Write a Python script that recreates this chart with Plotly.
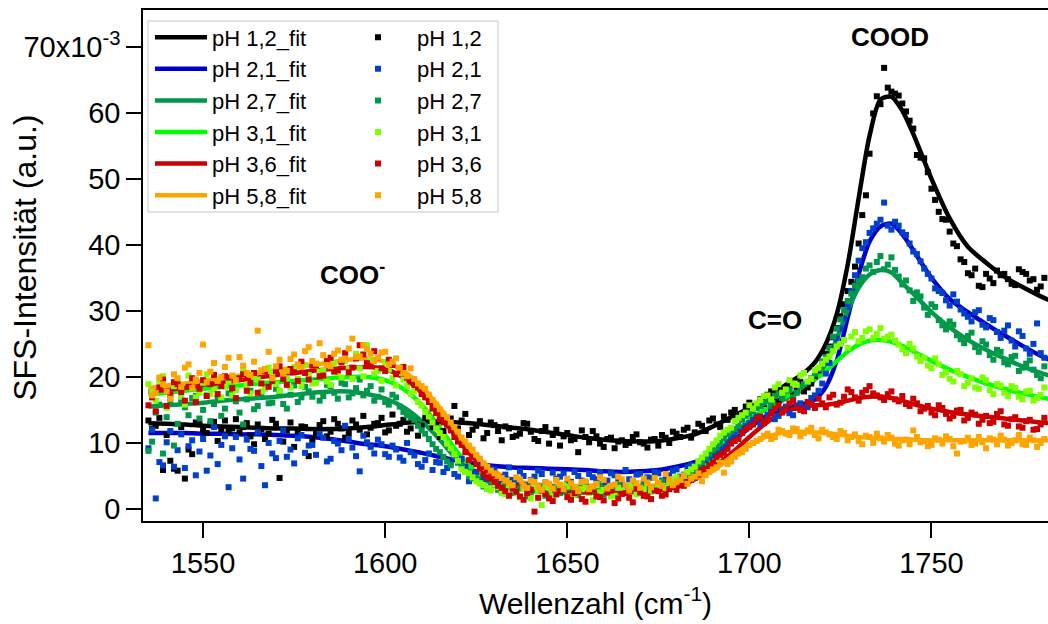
import plotly.graph_objects as go

# ---------------- data (values in units of 10^-3) ----------------
# measured points, odd wavenumbers
pt_x = [1535, 1537, 1539, 1541, 1543, 1545, 1547, 1549, 1551, 1553,
        1555, 1557, 1559, 1561, 1563, 1565, 1567, 1569, 1571, 1573,
        1575, 1577, 1579, 1581, 1583, 1585, 1587, 1589, 1591, 1593,
        1595, 1597, 1599, 1601, 1603, 1605, 1607, 1609, 1611, 1613,
        1615, 1617, 1619, 1621, 1623, 1625, 1627, 1629, 1631, 1633,
        1635, 1637, 1639, 1641, 1643, 1645, 1647, 1649, 1651, 1653,
        1655, 1657, 1659, 1661, 1663, 1665, 1667, 1669, 1671, 1673,
        1675, 1677, 1679, 1681, 1683, 1685, 1687, 1689, 1691, 1693,
        1695, 1697, 1699, 1701, 1703, 1705, 1707, 1709, 1711, 1713,
        1715, 1717, 1719, 1721, 1723, 1725, 1727, 1729, 1731, 1733,
        1735, 1737, 1739, 1741, 1743, 1745, 1747, 1749, 1751, 1753,
        1755, 1757, 1759, 1761, 1763, 1765, 1767, 1769, 1771, 1773,
        1775, 1777, 1779, 1781]

# measured points, even wavenumbers
pt_x2 = [1536, 1538, 1540, 1542, 1544, 1546, 1548, 1550, 1552, 1554,
         1556, 1558, 1560, 1562, 1564, 1566, 1568, 1570, 1572, 1574,
         1576, 1578, 1580, 1582, 1584, 1586, 1588, 1590, 1592, 1594,
         1596, 1598, 1600, 1602, 1604, 1606, 1608, 1610, 1612, 1614,
         1616, 1618, 1620, 1622, 1624, 1626, 1628, 1630, 1632, 1634,
         1636, 1638, 1640, 1642, 1644, 1646, 1648, 1650, 1652, 1654,
         1656, 1658, 1660, 1662, 1664, 1666, 1668, 1670, 1672, 1674,
         1676, 1678, 1680, 1682, 1684, 1686, 1688, 1690, 1692, 1694,
         1696, 1698, 1700, 1702, 1704, 1706, 1708, 1710, 1712, 1714,
         1716, 1718, 1720, 1722, 1724, 1726, 1728, 1730, 1732, 1734,
         1736, 1738, 1740, 1742, 1744, 1746, 1748, 1750, 1752, 1754,
         1756, 1758, 1760, 1762, 1764, 1766, 1768, 1770, 1772, 1774,
         1776, 1778, 1780]

pts_ph12 = [13.4, 12.6, 5.9, 7.3, 5.8, 4.6, 8.3, 12.9, 11.5, 13.2,
            12.1, 11.8, 13.6, 12.4, 11.0, 12.8, 10.6, 13.5, 4.7, 11.9,
            9.4, 12.5, 8.0, 11.4, 13.3, 11.7, 12.9, 10.8, 13.4, 12.0,
            11.3, 12.9, 13.8, 11.9, 12.6, 13.5, 12.2, 11.1, 13.8, 12.4,
            10.9, 12.8, 15.6, 13.4, 11.2, 12.6, 10.7, 13.1, 11.8, 12.5,
            10.9, 11.4, 12.9, 10.6, 11.8, 9.9, 12.0, 11.0, 10.4, 8.6,
            10.9, 11.8, 9.9, 10.6, 9.2, 10.4, 10.0, 11.3, 9.9, 10.5,
            9.6, 10.8, 11.7, 10.9, 12.3, 11.6, 12.6, 13.4, 12.8, 14.0,
            14.6, 13.9, 15.5, 15.1, 16.6, 17.3, 16.9, 17.2, 18.5, 18.1,
            17.8, 19.0, 21.0, 23.5, 26.0, 29.2, 33.0, 36.7, 44.5, 53.8,
            62.5, 66.8, 63.2, 62.6, 60.2, 57.6, 53.2, 51.0, 46.8, 43.9,
            42.0, 39.8, 37.4, 35.4, 33.8, 35.6, 34.2, 35.4, 34.8, 33.9,
            35.9, 34.6, 33.2, 35.0]
pts2_ph12 = [12.1, 13.8, 11.2, 6.1, 12.4, 9.0, 13.1, 11.9, 12.8, 10.3,
             13.4, 12.2, 11.6, 13.0, 9.8, 12.1, 11.4, 12.9, 10.2, 13.1,
             11.8, 12.4, 10.5, 12.7, 11.0, 13.6, 12.2, 11.5, 12.8, 14.1,
             12.3, 13.0, 11.6, 14.3, 12.9, 11.7, 13.4, 12.6, 14.0, 13.1,
             11.8, 13.7, 12.2, 14.4, 12.0, 13.3, 11.5, 12.7, 10.4, 12.2,
             11.1, 13.0, 11.7, 10.3, 12.4, 11.2, 9.6, 11.5, 10.6, 11.9,
             10.1, 11.0, 9.4, 10.8, 10.2, 9.7, 10.9, 10.1, 9.3, 10.6,
             11.2, 10.0, 11.4, 12.0, 10.8, 12.9, 11.8, 13.7, 12.4, 13.5,
             15.0, 14.2, 16.1, 15.6, 15.9, 17.8, 16.4, 18.0, 17.3, 19.2,
             18.4, 20.1, 22.3, 24.6, 27.4, 31.0, 34.4, 40.2, 47.5, 59.9,
             61.3, 63.8, 62.9, 61.4, 58.8, 53.6, 53.1, 48.5, 45.0, 43.8,
             40.2, 37.8, 35.7, 36.4, 33.6, 34.9, 36.1, 35.6, 34.1, 36.3,
             35.6, 34.8, 33.7]

pts_ph21 = [9.2, 1.6, 6.6, 11.8, 8.9, 6.2, 10.4, 8.7, 5.8, 12.4,
            9.7, 3.3, 10.9, 4.6, 9.1, 11.6, 3.6, 8.4, 10.3, 7.9,
            6.9, 11.2, 9.6, 8.2, 10.8, 7.6, 9.9, 12.6, 9.3, 5.7,
            10.1, 8.4, 9.8, 7.9, 9.0, 7.3, 8.6, 6.8, 7.4, 5.9,
            7.0, 6.2, 5.3, 7.6, 4.2, 5.6, 4.8, 6.1, 3.9, 5.2,
            4.4, 5.7, 3.6, 4.9, 5.3, 3.8, 4.6, 5.4, 4.1, 5.0,
            3.9, 4.8, 5.6, 4.3, 5.1, 3.7, 4.5, 5.2, 4.0, 4.7,
            5.4, 4.4, 5.8, 4.9, 6.3, 5.7, 6.9, 7.8, 8.6, 9.4,
            10.8, 11.9, 12.6, 13.5, 12.9, 14.3, 13.6, 15.1, 14.5, 15.7,
            14.9, 16.8, 17.9, 20.5, 24.0, 27.3, 30.6, 35.4, 39.5, 41.8,
            43.2, 46.4, 42.3, 42.9, 41.5, 39.0, 37.5, 35.6, 33.4, 32.7,
            30.8, 31.4, 29.6, 28.4, 30.1, 27.5, 28.6, 25.9, 27.8, 24.6,
            26.2, 23.5, 28.1, 22.9]
pts2_ph21 = [12.0, 7.1, 10.1, 6.4, 11.3, 9.5, 5.1, 10.6, 8.1, 6.8,
             11.0, 9.2, 7.5, 10.5, 8.8, 6.5, 10.0, 7.7, 11.9, 9.0,
             10.7, 8.5, 9.7, 11.4, 7.2, 10.3, 8.9, 10.6, 8.0, 11.1,
             9.4, 10.5, 8.3, 9.6, 7.8, 10.0, 8.1, 6.4, 8.4, 7.1,
             5.6, 6.9, 4.9, 6.4, 5.5, 6.7, 4.5, 5.9, 4.8, 6.3,
             4.2, 5.0, 4.4, 5.8, 4.0, 5.5, 4.9, 3.8, 5.6, 4.3,
             5.3, 4.5, 3.6, 5.4, 4.6, 5.9, 4.1, 5.3, 4.8, 5.6,
             4.3, 5.1, 6.0, 5.2, 6.6, 6.1, 7.4, 8.1, 9.0, 10.1,
             11.2, 12.2, 13.0, 14.0, 13.3, 14.8, 14.1, 15.5, 14.2, 16.0,
             15.4, 17.2, 19.0, 22.1, 25.8, 28.8, 33.0, 37.6, 40.4, 42.5,
             43.8, 42.9, 43.5, 41.9, 40.2, 38.6, 36.4, 34.9, 33.0, 31.6,
             32.5, 30.2, 29.1, 29.8, 27.9, 28.9, 26.8, 27.0, 25.5, 26.9,
             24.3, 25.0, 23.6]

pts_ph27 = [8.8, 14.6, 8.4, 16.2, 12.9, 15.4, 16.8, 13.7, 17.2, 15.9,
            14.1, 17.5, 16.3, 12.8, 17.9, 15.6, 18.4, 16.1, 17.6, 15.2,
            18.7, 16.9, 17.8, 19.4, 17.1, 18.6, 16.7, 18.9, 17.5, 19.6,
            17.9, 16.4, 18.1, 15.8, 16.9, 14.7, 13.9, 12.6, 11.4, 9.8,
            8.6, 7.2, 8.1, 6.3, 5.1, 4.5, 3.4, 4.0, 2.9, 3.5,
            2.4, 3.1, 1.9, 2.8, 3.4, 2.2, 3.0, 2.6, 3.7, 2.1,
            3.3, 2.7, 3.8, 2.5, 3.2, 2.3, 3.5, 2.9, 3.6, 2.8,
            3.9, 3.3, 4.4, 3.9, 5.2, 6.0, 7.1, 8.4, 9.3, 10.7,
            11.8, 12.6, 14.1, 14.8, 15.6, 16.3, 17.1, 16.8, 18.0, 17.6,
            18.9, 19.8, 21.2, 23.0, 26.1, 28.7, 31.5, 33.8, 35.1, 36.9,
            37.4, 36.3, 38.1, 35.2, 34.6, 31.5, 32.2, 29.4, 30.6, 27.8,
            28.4, 26.3, 25.1, 26.7, 23.8, 24.9, 22.6, 23.8, 21.9, 23.2,
            21.4, 22.5, 20.3, 21.6]
pts2_ph27 = [10.2, 15.8, 13.9, 9.6, 16.4, 14.2, 17.1, 15.0, 13.3, 16.8,
             15.2, 17.9, 14.6, 16.6, 15.1, 17.4, 16.0, 18.2, 15.9, 17.3,
             16.2, 18.5, 17.0, 16.4, 18.8, 17.6, 19.1, 16.9, 18.3, 17.2,
             18.6, 17.0, 16.2, 17.3, 15.5, 14.2, 13.5, 11.9, 10.6, 9.1,
             7.9, 6.6, 7.0, 5.7, 4.6, 3.9, 3.1, 3.6, 2.6, 3.8,
             2.7, 3.3, 2.5, 3.1, 2.0, 3.3, 2.4, 3.2, 2.8, 3.6,
             2.6, 3.4, 2.2, 3.0, 3.7, 2.6, 3.2, 2.5, 3.4, 3.1,
             4.2, 3.7, 4.1, 4.7, 5.7, 6.5, 7.8, 8.9, 10.0, 11.3,
             12.1, 13.5, 14.4, 15.3, 16.1, 15.7, 17.4, 17.9, 16.9, 18.5,
             19.2, 20.5, 22.3, 24.4, 27.3, 30.1, 32.6, 34.5, 36.4, 35.9,
             38.3, 37.0, 36.2, 34.0, 33.1, 32.8, 30.5, 31.0, 28.6, 27.2,
             27.9, 25.7, 26.2, 24.5, 25.4, 23.3, 24.1, 22.2, 23.0, 20.9,
             22.0, 21.1, 19.8]

pts_ph31 = [18.9, 16.4, 20.1, 17.2, 19.0, 15.8, 18.3, 17.6, 20.4, 18.1,
            16.9, 19.3, 18.0, 21.2, 17.5, 19.6, 18.2, 20.7, 17.9, 19.8,
            21.5, 18.6, 20.3, 19.1, 21.0, 18.8, 20.6, 22.4, 19.7, 21.3,
            24.8, 20.5, 19.4, 21.1, 18.7, 19.6, 17.4, 16.2, 14.7, 13.1,
            11.5, 9.9, 8.3, 6.0, 5.4, 4.2, 3.6, 2.8, 3.3, 2.2,
            3.0, 1.8, 2.6, 3.4, 0.6, 2.9, 2.3, 3.6, 1.9, 2.7,
            3.2, 1.3, 2.5, 3.1, 2.0, 2.8, 3.5, 2.2, 3.0, 2.6,
            3.7, 3.2, 4.5, 4.1, 5.6, 6.4, 7.8, 9.1, 10.4, 11.6,
            12.3, 13.8, 14.6, 15.2, 16.5, 17.2, 18.4, 17.6, 19.5, 18.8,
            20.6, 19.7, 21.4, 22.6, 23.9, 25.0, 24.4, 26.8, 25.9, 27.2,
            26.5, 25.8, 26.4, 24.9, 23.6, 24.3, 22.4, 21.7, 22.8, 20.3,
            19.7, 20.9, 18.6, 19.8, 18.2, 19.5, 17.4, 18.7, 17.1, 18.3,
            16.6, 17.9, 16.8, 18.4]
pts2_ph31 = [17.7, 19.4, 15.3, 18.6, 17.0, 20.2, 16.9, 19.1, 17.4, 19.6,
             18.5, 17.2, 20.0, 18.7, 19.9, 17.8, 21.4, 18.9, 20.5, 18.4,
             19.7, 21.8, 19.0, 20.8, 19.3, 22.0, 19.9, 21.2, 23.5, 20.1,
             22.6, 20.9, 22.2, 19.8, 20.6, 18.6, 17.9, 15.7, 14.0, 12.2,
             10.9, 9.2, 7.3, 5.6, 4.8, 3.9, 3.1, 3.7, 2.4, 3.4,
             2.5, 3.1, 1.6, 2.7, 3.3, 2.0, 2.8, 3.4, 2.2, 3.0,
             2.4, 3.6, 2.9, 1.9, 3.2, 2.5, 3.3, 2.7, 3.9, 3.0,
             3.5, 4.0, 4.8, 5.1, 6.0, 7.2, 8.4, 9.8, 11.1, 12.0,
             13.3, 14.2, 15.7, 16.0, 17.1, 16.6, 18.9, 18.1, 19.0, 20.2,
             19.3, 21.0, 22.0, 23.1, 24.6, 25.6, 26.1, 25.4, 26.9, 25.9,
             27.4, 26.1, 25.5, 24.2, 25.0, 23.1, 22.9, 21.3, 21.9, 20.7,
             19.3, 20.4, 19.1, 18.4, 19.9, 18.0, 18.9, 17.6, 18.6, 17.0,
             17.8, 16.4, 17.3]

pts_ph36 = [15.7, 14.8, 19.6, 17.3, 18.9, 16.4, 19.8, 18.2, 17.1, 20.3,
            18.6, 19.9, 16.8, 20.4, 19.1, 17.6, 20.9, 19.4, 21.6, 18.8,
            20.7, 22.3, 19.6, 21.8, 20.2, 22.9, 21.0, 23.6, 21.4, 24.8,
            22.1, 23.9, 21.3, 22.6, 20.4, 21.5, 19.3, 18.4, 16.9, 15.2,
            13.6, 12.8, 10.9, 9.7, 7.4, 6.8, 5.3, 4.6, 3.5, 2.7,
            3.1, 1.9, 2.4, -0.4, 2.8, 1.6, 2.2, 3.0, 1.4, 2.6,
            1.1, 2.9, 1.8, 2.5, 0.9, 2.3, 1.7, 3.1, 2.0, 1.5,
            2.7, 2.2, 3.4, 3.8, 4.1, 4.7, 5.9, 6.6, 7.8, 8.5,
            9.9, 10.6, 12.1, 12.8, 14.0, 13.6, 15.2, 14.6, 16.0, 15.3,
            14.8, 15.9, 16.7, 15.4, 17.3, 16.1, 18.1, 16.9, 17.6, 18.6,
            17.2, 16.5, 17.8, 16.3, 15.9, 16.7, 14.8, 15.6, 14.2, 15.3,
            13.7, 14.9, 13.4, 14.6, 12.9, 14.1, 13.2, 14.8, 12.6, 13.9,
            12.3, 13.5, 12.1, 13.8]
pts2_ph36 = [16.9, 18.4, 15.6, 19.2, 17.7, 18.5, 16.2, 19.5, 18.9, 17.4,
             20.1, 18.3, 19.8, 17.9, 20.6, 19.0, 18.5, 20.9, 19.7, 21.2,
             19.4, 20.6, 21.7, 20.1, 22.4, 20.8, 22.2, 20.7, 22.8, 23.4,
             21.7, 22.9, 20.9, 21.8, 20.9, 19.9, 18.8, 17.4, 16.2, 14.5,
             13.1, 11.9, 10.2, 8.6, 7.9, 6.1, 4.8, 4.1, 3.2, 2.0,
             2.6, 1.4, 2.9, 1.7, 2.3, 1.2, 2.7, 1.8, 2.4, 1.5,
             2.6, 1.9, 1.3, 2.8, 1.6, 2.4, 1.0, 2.5, 1.9, 2.8,
             2.0, 3.0, 2.9, 3.5, 4.4, 5.2, 6.1, 7.0, 8.2, 9.1,
             10.3, 11.5, 12.4, 13.6, 13.0, 14.5, 15.7, 15.1, 16.4, 15.0,
             16.2, 15.3, 16.0, 16.9, 15.8, 17.0, 17.7, 16.4, 18.0, 17.5,
             16.9, 17.4, 16.6, 17.1, 15.6, 16.0, 15.2, 14.6, 15.7, 14.4,
             14.1, 15.0, 13.8, 14.3, 13.5, 13.0, 14.4, 12.8, 13.6, 12.5,
             13.3, 12.0, 12.8]

pts_ph58 = [24.8, 17.6, 18.9, 16.7, 19.8, 21.4, 18.3, 20.6, 19.2, 22.1,
            20.0, 22.9, 19.5, 21.7, 20.3, 27.0, 21.2, 19.8, 22.6, 20.9,
            23.4, 21.5, 24.5, 22.0, 23.3, 21.6, 24.0, 22.8, 25.8, 23.1,
            24.2, 22.4, 23.7, 21.9, 22.8, 20.6, 21.3, 19.0, 18.2, 16.5,
            15.1, 13.9, 12.4, 10.8, 9.6, 8.2, 6.9, 5.8, 5.0, 4.3,
            3.6, 4.5, 3.2, 4.1, 2.9, 3.8, 4.4, 3.0, 3.9, 2.7,
            4.2, 3.4, 4.8, 3.1, 3.7, 4.5, 2.8, 3.9, 4.6, 3.3,
            4.0, 5.3, 3.6, 4.4, 3.8, 4.9, 4.2, 5.6, 6.3, 5.5,
            7.2, 8.4, 9.1, 10.0, 10.6, 11.4, 10.9, 11.8, 11.2, 12.1,
            11.5, 12.3, 10.7, 11.6, 10.9, 11.8, 10.4, 11.3, 9.8, 10.9,
            11.4, 10.2, 10.8, 9.6, 10.5, 11.9, 10.1, 9.5, 10.7, 9.9,
            10.6, 8.4, 10.3, 9.7, 10.9, 9.2, 10.5, 11.1, 9.6, 10.4,
            9.8, 10.8, 9.4, 10.6]
pts2_ph58 = [17.2, 19.9, 17.8, 20.4, 18.5, 21.9, 19.6, 24.9, 20.8, 19.4,
             21.5, 20.2, 23.0, 20.6, 22.3, 21.0, 23.8, 21.6, 20.5, 22.7,
             21.9, 23.9, 22.4, 25.1, 21.8, 23.5, 22.6, 24.3, 23.0, 24.8,
             23.5, 22.9, 23.8, 22.3, 21.4, 20.1, 19.7, 18.6, 17.3, 15.8,
             14.4, 13.1, 11.7, 10.2, 9.0, 7.6, 6.4, 5.4, 4.7, 3.9,
             4.8, 3.5, 4.3, 3.3, 4.0, 3.1, 3.7, 4.6, 3.3, 4.1,
             3.0, 3.8, 4.4, 3.5, 4.9, 3.6, 4.3, 3.2, 4.0, 4.7,
             3.5, 4.5, 4.1, 5.0, 4.6, 5.4, 5.1, 6.0, 7.0, 6.8,
             7.9, 8.6, 9.7, 10.3, 11.1, 10.6, 12.0, 11.4, 12.2, 11.0,
             11.9, 11.2, 12.0, 11.3, 10.6, 11.5, 10.9, 10.3, 11.1, 10.0,
             10.7, 11.2, 9.9, 10.4, 9.8, 10.9, 10.3, 9.7, 10.5, 11.0,
             9.5, 10.2, 10.8, 9.9, 10.1, 10.7, 9.8, 10.5, 10.0, 11.2,
             9.7, 10.4, 10.0]

# fitted curves
fit_x = [1535, 1540, 1545, 1550, 1555, 1560, 1565, 1570, 1575, 1580,
         1585, 1590, 1595, 1600, 1605, 1610, 1615, 1620, 1625, 1630,
         1635, 1640, 1645, 1650, 1655, 1660, 1665, 1670, 1675, 1680,
         1685, 1690, 1695, 1700, 1705, 1710, 1715, 1718, 1721, 1724,
         1727, 1730, 1733, 1736, 1739, 1742, 1745, 1750, 1755, 1760,
         1765, 1770, 1775, 1780, 1785]

fit_ph12 = [13.0, 12.9, 12.8, 12.6, 12.5, 12.4, 12.3, 12.2, 12.2, 12.1,
            12.1, 12.2, 12.4, 12.7, 13.0, 13.2, 13.2, 13.1, 12.9, 12.6,
            12.3, 12.0, 11.6, 11.2, 10.8, 10.5, 10.3, 10.2, 10.3, 10.7,
            11.3, 12.5, 13.9, 15.3, 17.0, 18.8, 20.6, 22.2, 25.0, 29.5,
            37.0, 47.0, 56.5, 62.0, 62.4, 60.3, 56.8, 50.0, 44.0, 39.7,
            37.3, 35.2, 33.6, 32.2, 31.0]

fit_ph21 = [11.5, 11.5, 11.5, 11.4, 11.4, 11.3, 11.3, 11.2, 11.1, 10.9,
            10.6, 10.2, 9.8, 9.5, 9.0, 8.5, 7.9, 7.3, 6.9, 6.5,
            6.3, 6.2, 6.1, 6.0, 5.9, 5.7, 5.6, 5.7, 5.9, 6.4,
            7.1, 8.2, 10.0, 12.3, 14.2, 15.3, 15.9, 16.6, 18.5, 22.5,
            29.0, 35.5, 40.5, 42.8, 43.2, 41.6, 39.2, 35.0, 31.8, 29.8,
            28.0, 26.3, 24.7, 23.2, 22.0]

fit_ph27 = [15.5, 15.7, 15.9, 16.1, 16.4, 16.6, 16.8, 17.0, 17.3, 17.6,
            17.8, 17.8, 17.4, 16.7, 15.4, 13.3, 10.5, 7.3, 5.0, 3.8,
            3.2, 3.0, 2.9, 2.9, 2.9, 2.9, 3.0, 3.1, 3.4, 4.0,
            5.4, 7.8, 10.8, 13.4, 15.3, 16.7, 18.2, 19.6, 22.0, 25.8,
            30.0, 33.5, 35.5, 36.2, 35.8, 34.2, 32.6, 29.8, 27.5, 25.6,
            24.1, 22.8, 21.6, 20.6, 19.8]

fit_ph31 = [17.3, 17.6, 17.9, 18.2, 18.5, 18.7, 19.0, 19.2, 19.4, 19.6,
            19.8, 20.0, 20.0, 19.5, 18.2, 15.8, 12.3, 8.5, 5.6, 4.0,
            3.3, 3.0, 2.9, 2.8, 2.8, 2.8, 2.9, 3.0, 3.3, 4.0,
            5.5, 7.9, 10.8, 13.4, 15.4, 17.0, 18.5, 19.6, 20.9, 22.4,
            23.8, 24.9, 25.5, 25.6, 25.3, 24.7, 23.9, 22.4, 21.1, 20.0,
            19.0, 18.2, 17.5, 16.9, 16.4]

fit_ph36 = [17.8, 18.0, 18.4, 18.8, 19.1, 19.5, 19.9, 20.3, 20.6, 20.9,
            21.2, 21.4, 21.5, 21.2, 19.9, 17.6, 14.3, 10.5, 7.3, 5.0,
            3.7, 3.1, 2.8, 2.6, 2.5, 2.5, 2.5, 2.6, 2.8, 3.3,
            4.5, 6.3, 8.4, 10.9, 13.2, 14.8, 15.5, 15.7, 15.8, 16.0,
            16.4, 16.8, 17.0, 17.0, 16.8, 16.4, 15.9, 15.2, 14.7, 14.3,
            14.0, 13.7, 13.4, 13.1, 12.9]

fit_ph58 = [18.3, 18.7, 19.0, 19.4, 19.8, 20.2, 20.6, 21.0, 21.4, 21.8,
            22.2, 22.6, 22.8, 22.3, 20.9, 18.5, 15.3, 11.4, 8.0, 5.7,
            4.4, 3.8, 3.6, 3.5, 3.5, 3.5, 3.5, 3.5, 3.6, 3.9,
            4.6, 5.8, 7.9, 9.8, 11.0, 11.6, 11.7, 11.6, 11.5, 11.3,
            11.1, 10.9, 10.8, 10.7, 10.6, 10.6, 10.5, 10.4, 10.4, 10.4,
            10.4, 10.4, 10.4, 10.4, 10.4]

series_names = ["pH 1,2", "pH 2,1", "pH 2,7", "pH 3,1", "pH 3,6", "pH 5,8"]
fit_colors = ["#000000", "#0000CC", "#00994C", "#00FF00", "#CC0000", "#FFA500"]
pt_colors = ["#000000", "#0040CC", "#00994C", "#80FF00", "#CC0000", "#FFA500"]

y_tickvals = [0, 10, 20, 30, 40, 50, 60, 70]
y_ticktext = ["0", "10", "20", "30", "40", "50", "60", "70x10<sup>-3</sup>"]
x_tickvals = [1550, 1600, 1650, 1700, 1750]

points = [pts_ph12, pts_ph21, pts_ph27, pts_ph31, pts_ph36, pts_ph58]
points2 = [pts2_ph12, pts2_ph21, pts2_ph27, pts2_ph31, pts2_ph36, pts2_ph58]
fits = [fit_ph12, fit_ph21, fit_ph27, fit_ph31, fit_ph36, fit_ph58]
for p in points:
    assert len(p) == len(pt_x)
for p in points2:
    assert len(p) == len(pt_x2)
for f in fits:
    assert len(f) == len(fit_x)

FONT = "Arial, 'Liberation Sans', sans-serif"

fig = go.Figure()

for name, ys, col in zip(series_names, fits, fit_colors):
    fig.add_trace(go.Scatter(
        x=fit_x, y=ys, mode="lines", name=name + "_fit", legend="legend",
        line=dict(color=col, width=4.5, shape="spline", smoothing=0.8),
    ))

for name, ys, ys2, col in zip(series_names, points, points2, pt_colors):
    fig.add_trace(go.Scatter(
        x=pt_x + pt_x2, y=ys + ys2, mode="markers", name=name, legend="legend2",
        marker=dict(symbol="square", size=6, color=col, line=dict(width=0)),
    ))

fig.update_layout(
    width=1048, height=624, autosize=False,
    margin=dict(l=143, r=0, t=10, b=103),
    paper_bgcolor="white", plot_bgcolor="white",
    font=dict(family=FONT, size=28, color="black"),
    showlegend=True,
    legend=dict(x=(150 - 143) / 905, y=0.9875, xanchor="left", yanchor="top",
                bgcolor="rgba(0,0,0,0)", borderwidth=0,
                font=dict(size=22, family=FONT), itemwidth=52,
                traceorder="normal"),
    legend2=dict(x=(339 - 143) / 905, y=0.9875, xanchor="left", yanchor="top",
                 bgcolor="rgba(0,0,0,0)", borderwidth=0,
                 font=dict(size=22, family=FONT), itemwidth=68,
                 traceorder="normal"),
    xaxis=dict(range=[1533.5, 1782], tickvals=x_tickvals, ticks="outside",
               ticklen=15, tickwidth=1.5, tickcolor="black",
               showline=True, linewidth=1.5, linecolor="black", mirror=True,
               showgrid=False, zeroline=False,
               tickfont=dict(size=29, family=FONT),
               title=dict(text="Wellenzahl (cm<sup>-1</sup>)",
                          font=dict(size=30, family=FONT))),
    yaxis=dict(range=[-1.82, 75.56], tickvals=y_tickvals, ticktext=y_ticktext,
               ticks="outside", ticklen=15, tickwidth=1.5, tickcolor="black",
               showline=True, linewidth=1.5, linecolor="black", mirror=False,
               showgrid=False, zeroline=False,
               tickfont=dict(size=29, family=FONT)),
    shapes=[dict(type="rect", xref="paper", yref="paper",
                 x0=(148 - 143) / 905, x1=(498 - 143) / 905,
                 y0=1 - (212 - 10) / 511, y1=1 - (21 - 10) / 511,
                 line=dict(color="#C8C8C8", width=1), fillcolor="white",
                 layer="below")],
    annotations=[
        dict(text="SFS-Intensität (a.u.)", textangle=-90, xref="paper", yref="paper",
             x=(25 - 143) / 905, y=0.515, xanchor="center", yanchor="middle",
             showarrow=False, font=dict(size=32, family=FONT)),
        dict(text="<b>COOD</b>", x=1738.5, y=71.5, xref="x", yref="y",
             showarrow=False, font=dict(size=26, family=FONT)),
        dict(text="<b>COO<sup>-</sup></b>", x=1590.9, y=35.7, xref="x", yref="y",
             showarrow=False, font=dict(size=26, family=FONT)),
        dict(text="<b>C=O</b>", x=1707.1, y=28.6, xref="x", yref="y",
             showarrow=False, font=dict(size=26, family=FONT)),
    ],
)

fig.write_html("out.html")
